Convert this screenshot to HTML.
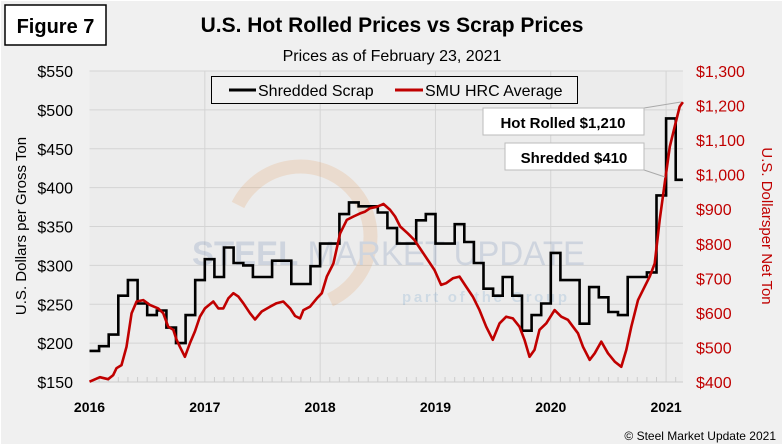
<!DOCTYPE html>
<html><head><meta charset="utf-8">
<style>
html,body{margin:0;padding:0;background:#fff;}
svg{display:block;font-family:"Liberation Sans",sans-serif;}
</style></head>
<body>
<svg id="chart" width="783" height="445" viewBox="0 0 783 445">
<rect x="1" y="1" width="781" height="443" fill="#f0f0f0"/>
<rect x="89.5" y="71" width="593.5" height="311" fill="#ececec"/>
<g id="grid"></g>
<g opacity="0.16">
<path d="M238,205 A70,70 0 1 1 330,300" fill="none" stroke="#e58a3a" stroke-width="14"/>
<text x="192" y="265" font-size="34" fill="#3a5f9a" textLength="393" lengthAdjust="spacingAndGlyphs"><tspan font-weight="bold">STEEL</tspan> MARKET UPDATE</text>
<text x="402" y="302" font-size="15" font-weight="bold" fill="#3a7fc0" textLength="165" lengthAdjust="spacing">part of the      Group</text>
</g>
<g id="axes"></g>
<g id="series"></g>
<rect x="5" y="5" width="101" height="40" fill="#fff" stroke="#000" stroke-width="1.5"/>
<text x="55.5" y="33" text-anchor="middle" font-size="20" font-weight="bold">Figure 7</text>
<text x="392" y="32" text-anchor="middle" font-size="21" font-weight="bold">U.S. Hot Rolled Prices vs Scrap Prices</text>
<text x="392" y="61" text-anchor="middle" font-size="16">Prices as of February 23, 2021</text>
<g>
<rect x="211.5" y="76.5" width="366" height="27" fill="#f0f0f0" stroke="#000" stroke-width="1"/>
<line x1="229" y1="90" x2="256" y2="90" stroke="#000" stroke-width="3"/>
<text x="258" y="96" font-size="16">Shredded Scrap</text>
<line x1="395" y1="90" x2="423" y2="90" stroke="#c00000" stroke-width="3"/>
<text x="425" y="96" font-size="16">SMU HRC Average</text>
</g>
<g>
<line x1="644" y1="108" x2="681" y2="102" stroke="#aaa" stroke-width="1"/>
<line x1="644" y1="170" x2="665" y2="177" stroke="#aaa" stroke-width="1"/>
<rect x="483" y="108" width="161" height="27" fill="#fff" stroke="#bbb"/>
<text x="563" y="128" text-anchor="middle" font-size="15" font-weight="bold">Hot Rolled $1,210</text>
<rect x="505" y="143" width="139" height="27" fill="#fff" stroke="#bbb"/>
<text x="574" y="163" text-anchor="middle" font-size="15" font-weight="bold">Shredded $410</text>
</g>
<text transform="translate(26,226) rotate(-90)" text-anchor="middle" font-size="15">U.S. Dollars per Gross Ton</text>
<text transform="translate(762,226) rotate(90)" text-anchor="middle" font-size="15" fill="#c00000">U.S. Dollarsper Net Ton</text>
<text x="776" y="440" text-anchor="end" font-size="12">© Steel Market Update 2021</text>
</svg>
<script>
// Shredded scrap monthly values Jan 2016 .. Feb 2021 ($/gross ton)
const scrapValues = [190,196,211,261,281,251,236,242,220,200,236,281,
 308,285,323,303,300,285,285,306,306,276,276,299,
 328,328,366,381,376,376,368,348,328,328,358,366,
 328,328,353,330,303,270,261,285,261,216,236,251,
 316,281,281,225,272,259,240,236,285,285,291,390,
 489,410];
// HRC: months since Jan 2016
const hrcMonths = [0,1.08,1.94,2.47,2.81,3.33,3.85,4.38,4.9,5.59,6.28,7.15,7.67,8.19,8.72,9.06,9.41,9.93,10.45,10.97,11.49,12.01,12.88,13.4,13.92,14.44,14.97,15.49,16,16.7,17.22,17.92,18.78,19.47,20.17,20.87,21.39,21.91,22.26,22.95,23.65,24.17,24.69,25.38,26.08,26.77,27.47,28.16,28.68,29.2,29.9,30.59,31.28,31.8,32.33,33.12,33.81,34.51,35.2,35.9,36.59,37.11,37.81,38.5,39.19,39.89,40.58,41.28,41.97,42.67,43.36,44.06,44.75,45.27,45.79,46.31,46.83,47.53,48.4,49.09,49.78,50.31,50.83,51.35,52.05,52.57,53.26,53.95,54.65,55.34,55.86,56.38,57.08,57.77,58.29,58.81,59.33,59.85,60.38,60.9,61.42,61.75];
const hrcValues = [401,414,408,420,440,449,502,599,633,637,623,613,599,560,551,522,502,473,512,546,589,613,633,613,613,642,657,647,628,599,581,604,618,628,633,613,591,584,608,618,642,657,705,743,830,869,879,888,893,903,907,915,898,879,850,830,811,782,753,724,681,686,700,705,676,647,608,560,522,570,589,584,560,522,473,493,551,570,608,589,580,560,541,502,464,483,517,483,459,444,493,560,637,676,705,743,869,975,1081,1139,1197,1210];
const leftTicks = [150,200,250,300,350,400,450,500,550];
const rightTicks = [400,500,600,700,800,900,1000,1100,1200,1300];
const yearLabels = ["2016","2017","2018","2019","2020","2021"];
const lastMonth = 61.75;

const NS="http://www.w3.org/2000/svg";
const X0=89.5, PX_PER_MONTH=9.61, Y_TOP=71, Y_BOT=382;
const xM = m => X0 + m*PX_PER_MONTH;
const yL = v => Y_BOT - (v-150)/(550-150)*(Y_BOT-Y_TOP);
const yR = v => Y_BOT - (v-400)/(1300-400)*(Y_BOT-Y_TOP);
function mk(tag, attrs, parent, text){
  const e=document.createElementNS(NS,tag);
  for(const k in attrs) e.setAttribute(k, attrs[k]);
  if(text!==undefined) e.textContent=text;
  parent.appendChild(e); return e;
}
const grid=document.getElementById('grid');
const axes=document.getElementById('axes');
const series=document.getElementById('series');

leftTicks.forEach(v=>{
  const l=mk('line',{x1:X0,x2:xM(lastMonth),y1:yL(v),y2:yL(v),stroke:'#d4d4d4','stroke-width':1},grid);
  
  
  const t=mk('text',{x:73,y:yL(v)+6,'text-anchor':'end','font-size':16},axes,'$'+v);
  
  
});
rightTicks.forEach(v=>{
  const t=mk('text',{x:696,y:yR(v)+6,'font-size':16,fill:'#c00000'},axes,'$'+v.toLocaleString('en-US'));
  
  
});
yearLabels.forEach((lab,i)=>{
  const x=xM(i*12);
  if(i>0){
    const l=mk('line',{x1:x,x2:x,y1:Y_TOP,y2:Y_BOT,stroke:'#d4d4d4','stroke-width':1},grid);
    
    
  }
  const t=mk('text',{x:x,y:412,'text-anchor':'middle','font-size':14,'font-weight':'bold'},axes,lab);
  
  
});
for(let m=0;m<=lastMonth;m++){
  const t=mk('line',{x1:xM(m),x2:xM(m),y1:Y_BOT,y2:Y_BOT-(m%12===0?0:5),stroke:'#ccc','stroke-width':1},axes);
  
  
}
const ax=mk('line',{x1:X0,x2:xM(lastMonth),y1:Y_BOT,y2:Y_BOT,stroke:'#ccc','stroke-width':1},axes);



let d='';
scrapValues.forEach((v,i)=>{
  const x1=xM(i), x2=xM(Math.min(i+1,lastMonth)), y=yL(v);
  d += (i===0?'M':'L')+x1.toFixed(1)+','+y.toFixed(1)+' L'+x2.toFixed(1)+','+y.toFixed(1)+' ';
});
const sp=mk('path',{d:d,fill:'none',stroke:'#000','stroke-width':2.6},series);



const hd=hrcValues.map((v,i)=>(i?'L':'M')+xM(hrcMonths[i]).toFixed(1)+','+yR(v).toFixed(1)).join(' ');
const hp=mk('path',{d:hd,fill:'none',stroke:'#c00000','stroke-width':2.6,'stroke-linejoin':'round'},series);


</script>
</body></html>
